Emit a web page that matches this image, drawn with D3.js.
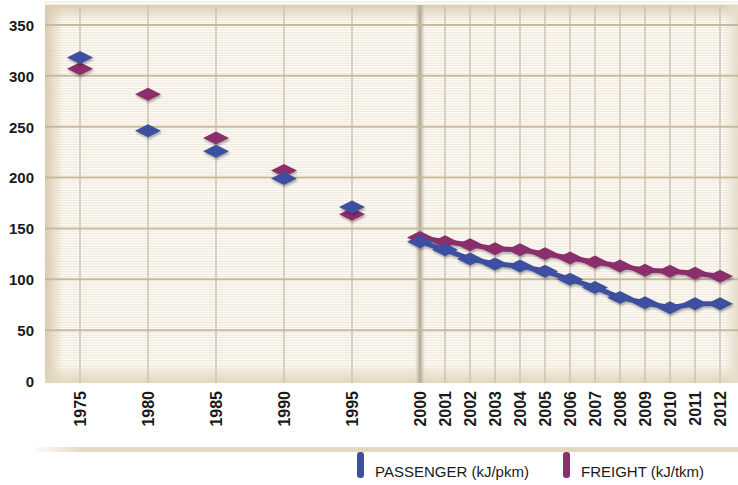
<!DOCTYPE html>
<html>
<head>
<meta charset="utf-8">
<script src="https://cdn.jsdelivr.net/npm/d3@7"></script>
<style>
  body { margin: 0; background: #fff; }
  svg { display: block; }
  .tick text { font-family: "Liberation Sans", Arial, sans-serif; font-weight: bold; fill: #1a1a1a; }
  .legend text { font-family: "Liberation Sans", Arial, sans-serif; fill: #1a1a1a; }
</style>
</head>
<body>
<div id="chart-area"></div>
<script>
// data
var years = [1975, 1980, 1985, 1990, 1995, 2000, 2001, 2002, 2003, 2004, 2005, 2006, 2007, 2008, 2009, 2010, 2011, 2012];
var passenger = [318, 246, 226, 199, 171, 137, 129, 120, 115, 113, 108, 100, 92, 82, 77, 72, 76, 76];
var freight = [307, 282, 239, 207, 164, 141, 137, 134, 130, 129, 125, 121, 117, 113, 109, 108, 106, 103];
var yTicks = [0, 50, 100, 150, 200, 250, 300, 350];
var seriesNames = ['PASSENGER (kJ/pkm)', 'FREIGHT (kJ/tkm)'];
var seriesColors = ['#3e4f9f', '#8a2f6c'];

var width = 738, height = 485;
var plot = { left: 45, top: 5, right: 738, bottom: 383 };

var svg = d3.select('#chart-area').append('svg')
    .attr('width', width)
    .attr('height', height);

var defs = svg.append('defs');

function grad(id, x1, y1, x2, y2, stops) {
  var g = defs.append('linearGradient').attr('id', id)
    .attr('x1', x1).attr('y1', y1).attr('x2', x2).attr('y2', y2);
  stops.forEach(function(s) {
    g.append('stop').attr('offset', s[0]).attr('stop-color', s[1]).attr('stop-opacity', s[2]);
  });
}
grad('topShade', 0, 0, 0, 1, [[0, '#dccfb6', 1], [1, '#dccfb6', 0]]);
grad('leftShade', 0, 0, 1, 0, [[0, '#d9cbb0', 1], [1, '#d9cbb0', 0]]);
grad('bottomShade', 0, 0, 0, 1, [[0, '#e2d6bf', 0], [1, '#e2d6bf', 1]]);
grad('rightShade', 0, 0, 1, 0, [[0, '#e6dcc9', 0], [1, '#e6dcc9', 1]]);
grad('splitLine', 0, 0, 1, 0, [[0, '#c9bfae', 0], [0.5, '#b3a994', 1], [1, '#c9bfae', 0]]);
grad('legendBand', 0, 0, 1, 0, [[0, '#e3d7c0', 0], [0.08, '#e3d7c0', 1], [1, '#e3d7c0', 1]]);

var shadow = defs.append('filter').attr('id', 'shadow')
  .attr('x', '-30%').attr('y', '-50%').attr('width', '160%').attr('height', '200%');
shadow.append('feDropShadow').attr('dx', 1).attr('dy', 2).attr('stdDeviation', 1.2)
  .attr('flood-color', '#000').attr('flood-opacity', 0.3);

// scales: five-year steps before 2000, yearly after
var x = d3.scaleLinear()
  .domain([1975, 2000, 2012])
  .range([80, 420, 720]);

var y = d3.scaleLinear()
  .domain([0, 350])
  .range([381, 25]);

// plot background
svg.append('rect')
  .attr('x', plot.left).attr('y', plot.top)
  .attr('width', plot.right - plot.left).attr('height', plot.bottom - plot.top)
  .attr('fill', '#fcfaf4');

// faint stripes
var minor = d3.range(2.5, 375, 2.5).filter(function(d) { return d % 50 !== 0; });
svg.append('g').selectAll('line')
  .data(minor)
  .enter().append('line')
  .attr('x1', plot.left).attr('x2', plot.right)
  .attr('y1', function(d) { return y(d); }).attr('y2', function(d) { return y(d); })
  .attr('stroke', '#efe7da').attr('stroke-width', 1);

// shading at the edges
svg.append('rect').attr('x', plot.left).attr('y', plot.top)
  .attr('width', plot.right - plot.left).attr('height', 16).attr('fill', 'url(#topShade)');
svg.append('rect').attr('x', plot.left).attr('y', plot.top)
  .attr('width', 18).attr('height', plot.bottom - plot.top).attr('fill', 'url(#leftShade)');
svg.append('rect').attr('x', plot.left).attr('y', plot.bottom - 18)
  .attr('width', plot.right - plot.left).attr('height', 18).attr('fill', 'url(#bottomShade)');
svg.append('rect').attr('x', plot.right - 14).attr('y', plot.top)
  .attr('width', 14).attr('height', plot.bottom - plot.top).attr('fill', 'url(#rightShade)');

// vertical grid
svg.append('g').selectAll('line')
  .data(years)
  .enter().append('line')
  .attr('x1', function(d) { return x(d); }).attr('x2', function(d) { return x(d); })
  .attr('y1', plot.top).attr('y2', plot.bottom)
  .attr('stroke', '#cdc4b4').attr('stroke-width', 1.5);

// split line at 2000
svg.append('rect')
  .attr('x', x(2000) - 5).attr('y', plot.top)
  .attr('width', 10).attr('height', plot.bottom - plot.top)
  .attr('fill', 'url(#splitLine)');

// horizontal major grid
svg.append('g').selectAll('line')
  .data(yTicks.filter(function(d) { return d > 0; }))
  .enter().append('line')
  .attr('x1', plot.left).attr('x2', plot.right)
  .attr('y1', function(d) { return y(d); }).attr('y2', function(d) { return y(d); })
  .attr('stroke', '#c9b99c').attr('stroke-width', 2);

// y axis
var yAxis = svg.append('g')
  .attr('transform', 'translate(34,0)')
  .call(d3.axisLeft(y).tickValues(yTicks).tickSize(0).tickPadding(0));
yAxis.select('.domain').remove();
yAxis.selectAll('text').attr('font-size', '15px').attr('dy', '0.36em');

// x axis
var xAxis = svg.append('g')
  .attr('transform', 'translate(0,' + plot.bottom + ')')
  .call(d3.axisBottom(x).tickValues(years).tickFormat(d3.format('d')).tickSize(0));
xAxis.select('.domain').remove();
xAxis.selectAll('text')
  .attr('font-size', '16px')
  .attr('transform', 'rotate(-90)')
  .attr('text-anchor', 'end')
  .attr('x', -8)
  .attr('y', 0)
  .attr('dy', '0.36em');

// series
var diamond = 'M0,-6.5L13,0L0,6.5L-13,0Z';
var series = [passenger, freight];
var drawOrder = [1, 0];

drawOrder.forEach(function(s) {
  var pts = years.map(function(yr, i) { return { year: yr, value: series[s][i] }; });
  var g = svg.append('g').attr('filter', 'url(#shadow)');

  var recent = pts.filter(function(d) { return d.year >= 2000; });
  g.append('path')
    .datum(recent)
    .attr('fill', 'none')
    .attr('stroke', seriesColors[s])
    .attr('stroke-width', 5)
    .attr('d', d3.line().x(function(d) { return x(d.year); }).y(function(d) { return y(d.value); }));

  g.selectAll('path.pt')
    .data(pts)
    .enter().append('path')
    .attr('class', 'pt')
    .attr('d', diamond)
    .attr('fill', seriesColors[s])
    .attr('transform', function(d) { return 'translate(' + x(d.year) + ',' + y(d.value) + ')'; });
});

// legend band
svg.append('rect')
  .attr('x', 30).attr('y', 447)
  .attr('width', width - 30).attr('height', 5)
  .attr('fill', 'url(#legendBand)');

var legendX = [357, 563];
var legend = svg.append('g').attr('class', 'legend');
seriesNames.forEach(function(name, i) {
  legend.append('rect')
    .attr('x', legendX[i]).attr('y', 452)
    .attr('width', 7).attr('height', 26)
    .attr('rx', 3)
    .attr('fill', seriesColors[i]);
  legend.append('text')
    .attr('x', legendX[i] + 18)
    .attr('y', 477)
    .attr('font-size', '15px')
    .text(name);
});
</script>
</body>
</html>
